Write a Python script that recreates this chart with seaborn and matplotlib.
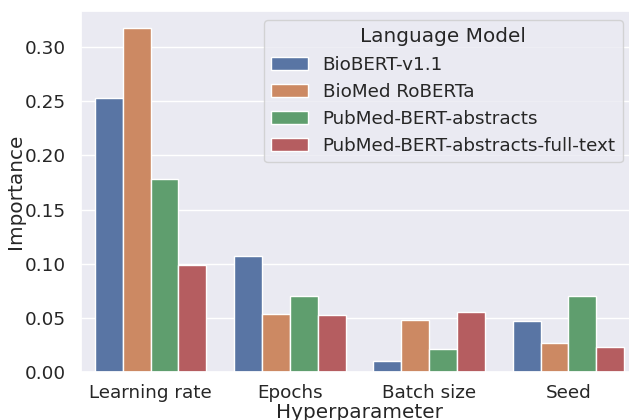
import pandas as pd
import matplotlib
matplotlib.use("Agg")
import matplotlib.pyplot as plt
import seaborn as sns

hyperparams = ["Learning rate", "Epochs", "Batch size", "Seed"]
models = ["BioBERT-v1.1", "BioMed RoBERTa", "PubMed-BERT-abstracts",
          "PubMed-BERT-abstracts-full-text"]

biobert = [0.2525, 0.1075, 0.0102, 0.0468]
biomed_roberta = [0.3174, 0.0540, 0.0477, 0.0270]
pubmed_abs = [0.1780, 0.0700, 0.0210, 0.0702]
pubmed_full = [0.0985, 0.0523, 0.0557, 0.0228]

rows = []
for name, vals in zip(models, [biobert, biomed_roberta, pubmed_abs, pubmed_full]):
    for hp, v in zip(hyperparams, vals):
        rows.append({"Hyperparameter": hp, "Language Model": name, "Importance": v})
df = pd.DataFrame(rows)

sns.set_theme(style="darkgrid", font_scale=1.2)

fig = plt.figure(figsize=(6.29, 4.2), dpi=100)
# the original figure looks cropped on the right, so the axes run past the edge
ax = fig.add_axes([81 / 629, 48 / 420, 557 / 629, 361 / 420])
sns.barplot(data=df, x="Hyperparameter", y="Importance", hue="Language Model",
            palette="deep", ax=ax)
ax.tick_params(axis="x", pad=3)
ax.tick_params(axis="y", pad=5)
ax.xaxis.labelpad = 0
ax.yaxis.labelpad = -0.5
ax.legend(title="Language Model", loc="upper right",
          bbox_to_anchor=(623 / 629, 1 - 20 / 420),
          bbox_transform=fig.transFigure, borderaxespad=0)

plt.savefig("out.png", dpi=100)
plt.close()
